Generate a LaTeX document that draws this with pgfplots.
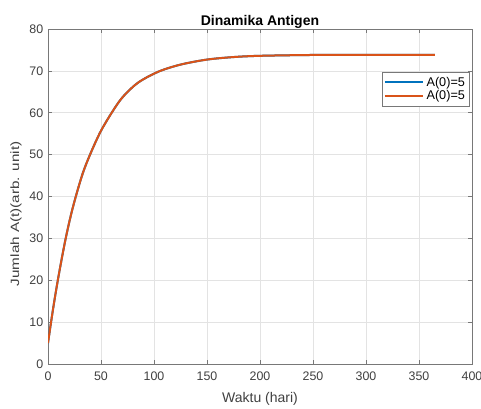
\documentclass[border=0pt]{standalone}
\usepackage{fontspec}
\setmainfont{Liberation Sans}
\usepackage{graphicx}
\usepackage{pgfplots}
\pgfplotsset{compat=1.18}
\definecolor{mblue}{RGB}{0,114,189}
\definecolor{morange}{RGB}{217,83,25}
\definecolor{axgray}{RGB}{120,120,120}

\begin{document}
\begin{tikzpicture}[x=0.75pt,y=0.75pt]
\useasboundingbox (0,0) rectangle (481,408);
\begin{axis}[
    at={(36pt,33pt)}, anchor=south west,
    scale only axis, width=318pt, height=251.25pt,
    xmin=0, xmax=400, ymin=0, ymax=80,
    xtick={0,50,...,400}, ytick={0,10,...,80},
    tick align=inside, major tick length=3pt,
    xtick pos=both, ytick pos=both,
    grid=major, major grid style={gray!22, line width=0.4pt},
    axis line style={axgray, line width=0.5pt},
    tick style={axgray, line width=0.5pt},
    /pgf/number format/assume math mode=true,
    tick label style={font=\fontsize{9.3}{11}\selectfont, text=black!75},
    xticklabel style={yshift=-2pt},
    title={\bfseries Dinamika Antigen},
    title style={font=\fontsize{10.5}{12}\selectfont, yshift=-9.5pt},
    xlabel={Waktu (hari)},
    ylabel={\scalebox{1.27}[1]{Jumlah A(t)(arb. unit)}},
    xlabel style={font=\fontsize{10.5}{12}\selectfont, text=black!75, yshift=-2pt},
    ylabel style={font=\fontsize{9}{11}\selectfont, text=black!75, yshift=-1pt, xshift=-13pt},
    legend style={at={(0.995,0.872)}, anchor=north east,
        font=\fontsize{9.5}{10.5}\selectfont, draw=axgray,
        row sep=-2pt, inner sep=1.5pt},
    legend cell align=left,
    legend image code/.code={\draw[#1] (0cm,0cm) -- (1.0cm,0cm);},
]
\addplot[mblue, line width=1.5pt, smooth] coordinates {
(0,5) (3,10.2) (6,15.1) (9.4,20.2) (13,25.2) (16.7,30) (21,34.9) (26,39.8)
(33,45.7) (40.5,50.5) (50,55.7) (61.6,60.6) (71,63.9) (85,67.2)
(104,69.8) (125,71.5) (150,72.7) (175,73.3) (200,73.6) (250,73.8)
(300,73.8) (365,73.8)};
\addlegendentry{A(0)=5}
\addplot[morange, line width=1.5pt, smooth] coordinates {
(0,5) (3,10.2) (6,15.1) (9.4,20.2) (13,25.2) (16.7,30) (21,34.9) (26,39.8)
(33,45.7) (40.5,50.5) (50,55.7) (61.6,60.6) (71,63.9) (85,67.2)
(104,69.8) (125,71.5) (150,72.7) (175,73.3) (200,73.6) (250,73.8)
(300,73.8) (365,73.8)};
\addlegendentry{A(0)=5}
\end{axis}
\end{tikzpicture}
\end{document}
